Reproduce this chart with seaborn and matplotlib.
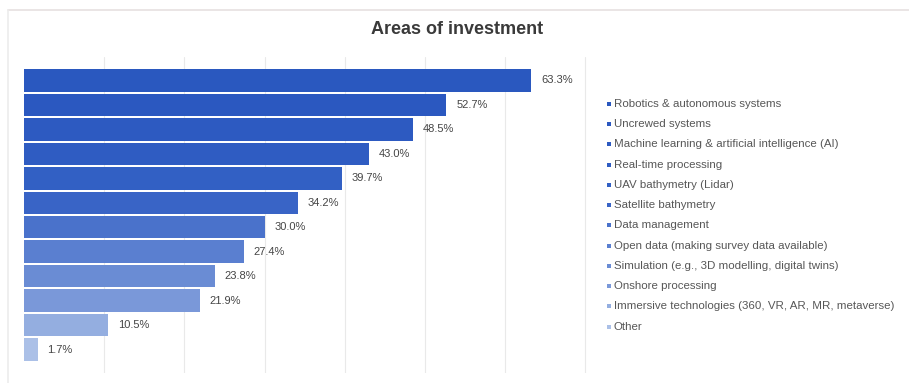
import matplotlib
matplotlib.use("Agg")
import matplotlib.pyplot as plt
from matplotlib.lines import Line2D
import seaborn as sns
import pandas as pd

# Survey: share of respondents investing in each area (%)
categories = [
    "Robotics & autonomous systems",
    "Uncrewed systems",
    "Machine learning & artificial intelligence (AI)",
    "Real-time processing",
    "UAV bathymetry (Lidar)",
    "Satellite bathymetry",
    "Data management",
    "Open data (making survey data available)",
    "Simulation (e.g., 3D modelling, digital twins)",
    "Onshore processing",
    "Immersive technologies (360, VR, AR, MR, metaverse)",
    "Other",
]
values = [63.3, 52.7, 48.5, 43.0, 39.7, 34.2, 30.0, 27.4, 23.8, 21.9, 10.5, 1.7]
bar_colors = [
    "#2a58bf", "#2b58c0", "#2d5ac1", "#2f5cc2", "#3260c4", "#3964c6",
    "#4a72cb", "#5a7fd0", "#6a8cd4", "#7a98d9", "#94aee0", "#abc0e7",
]
title = "Areas of investment"

df = pd.DataFrame({"area": categories, "pct": values})

sns.set_theme(style="white")
plt.rcParams["font.family"] = ["Liberation Sans", "DejaVu Sans"]

W, H = 909, 383
fig = plt.figure(figsize=(W / 100, H / 100), dpi=100)
fig.patch.set_facecolor("white")

def fx(px):
    return px / W

def fy(py):
    return 1 - py / H

# Bar area
left, right, top, bottom = 24, 590, 57, 373
ax = fig.add_axes([fx(left), fy(bottom), fx(right - left), (bottom - top) / H])
sns.barplot(data=df, x="pct", y="area", hue="area", palette=bar_colors,
            width=0.92, legend=False, ax=ax, saturation=1, edgecolor="none")
ax.set_xlim(0, 70.6)
ax.set_ylim(len(categories) - 1 + 0.96, -0.96)
ax.set_xticks(range(10, 71, 10))
ax.xaxis.grid(True, color="#e9e9e9", linewidth=0.8)
ax.set_axisbelow(True)
ax.tick_params(length=0, labelbottom=False, labelleft=False)
ax.set_xlabel("")
ax.set_ylabel("")
for s in ax.spines.values():
    s.set_visible(False)
ax.patch.set_alpha(0)

for cont in ax.containers:
    ax.bar_label(cont, labels=[f"{v:.1f}%" for v in cont.datavalues],
                 padding=7, fontsize=8, color="#454545")

# Legend column with colour markers
lax = fig.add_axes([fx(600), fy(337), fx(305), (337 - 93) / H])
lax.set_xlim(0, 305)
row_pitch = 20.25
lax.set_ylim(93 + 244, 93)
for i, (name, col) in enumerate(zip(categories, bar_colors)):
    yc = 104 + i * row_pitch
    lax.scatter([9], [yc], marker="s", s=7, color=col, linewidths=0)
    lax.text(14, yc, name, fontsize=8.25, color="#575757", va="center", ha="left")
lax.axis("off")

# Title
fig.text(fx(457), fy(30), title, ha="center", va="center",
         fontsize=13, fontweight="bold", color="#3a3a3a")

# Faint outer frame
fig.add_artist(Line2D([fx(8), 1], [fy(10), fy(10)], color="#e6e0e0", linewidth=1.2))
fig.add_artist(Line2D([fx(8), fx(8)], [fy(10), fy(383)], color="#ececec", linewidth=1.2))

fig.savefig("out.png", dpi=100, facecolor="white")
